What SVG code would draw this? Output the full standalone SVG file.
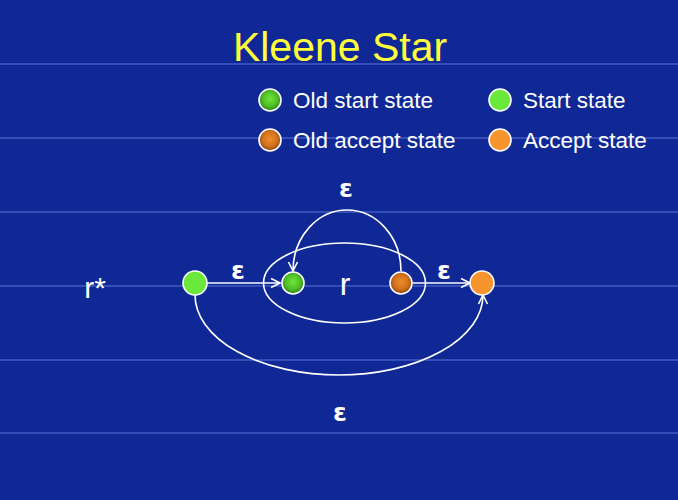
<svg xmlns="http://www.w3.org/2000/svg" width="678" height="500" viewBox="0 0 678 500">
<defs>
<style>
.rule{stroke:#5d73d6;stroke-width:1.2}
.lbl{font-family:"Liberation Sans",Arial,sans-serif;fill:#ffffff}
.leg{font-size:22.5px}
.eps{font-family:"DejaVu Sans",sans-serif;font-size:25px;font-weight:bold;text-anchor:middle}
.edge{fill:none;stroke:#ffffff;stroke-width:1.6}
.node{stroke:#ffffff;stroke-width:1.6}
</style>
<radialGradient id="gOld" cx="50%" cy="45%" r="55%">
<stop offset="0" stop-color="#6fe63a"/>
<stop offset="0.6" stop-color="#4fc027"/>
<stop offset="1" stop-color="#2f7d14"/>
</radialGradient>
<radialGradient id="oOld" cx="50%" cy="45%" r="55%">
<stop offset="0" stop-color="#f08a2a"/>
<stop offset="0.6" stop-color="#d2721d"/>
<stop offset="1" stop-color="#8a4410"/>
</radialGradient>
<marker id="arr" viewBox="0 0 12 12" refX="11" refY="6" markerWidth="12" markerHeight="12" markerUnits="userSpaceOnUse" orient="auto">
<polyline points="2,1.5 11,6 2,10.5" fill="none" stroke="#ffffff" stroke-width="1.6"/>
</marker>
</defs>
<rect width="678" height="500" fill="#0f2896"/>
<g id="rules">
<line class="rule" x1="0" y1="64" x2="678" y2="64"/>
<line class="rule" x1="0" y1="138" x2="678" y2="138"/>
<line class="rule" x1="0" y1="212" x2="678" y2="212"/>
<line class="rule" x1="0" y1="286" x2="678" y2="286"/>
<line class="rule" x1="0" y1="360" x2="678" y2="360"/>
<line class="rule" x1="0" y1="433" x2="678" y2="433"/>
</g>
<text x="340" y="61" font-family="Liberation Sans,Arial,sans-serif" font-size="41" fill="#ffff3c" text-anchor="middle">Kleene Star</text>
<g id="legend">
<circle class="node" cx="270" cy="100" r="11" fill="url(#gOld)"/>
<text class="lbl leg" x="293" y="108">Old start state</text>
<circle class="node" cx="500" cy="100" r="11" fill="#6ae93a"/>
<text class="lbl leg" x="523" y="108">Start state</text>
<circle class="node" cx="270" cy="140" r="11" fill="url(#oOld)"/>
<text class="lbl leg" x="293" y="148">Old accept state</text>
<circle class="node" cx="500" cy="140" r="11" fill="#f6952e"/>
<text class="lbl leg" x="523" y="148">Accept state</text>
</g>
<text class="lbl" x="95" y="298" font-size="30" text-anchor="middle">r*</text>
<g id="nfa-r">
<ellipse cx="344.5" cy="283" rx="81" ry="40" fill="none" stroke="#ffffff" stroke-width="1.6"/>
<text class="lbl" x="345" y="295" font-size="32" text-anchor="middle">r</text>
</g>
<g id="connectors">
<line class="edge" x1="207" y1="283" x2="280" y2="283" marker-end="url(#arr)"/>
<line class="edge" x1="413" y1="283" x2="470" y2="283" marker-end="url(#arr)"/>
<path class="edge" d="M401 271 A54 61 0 0 0 293 271" marker-end="url(#arr)"/>
<path class="edge" d="M195 295 A144 80 0 0 0 483 295" marker-end="url(#arr)"/>
</g>
<g id="edge-labels">
<text class="lbl eps" x="346" y="197">ε</text>
<text class="lbl eps" x="238" y="279">ε</text>
<text class="lbl eps" x="444" y="279">ε</text>
<text class="lbl eps" x="340" y="421">ε</text>
</g>
<g id="start">
<circle class="node" cx="195" cy="283" r="12" fill="#6ae93a"/>
</g>
<g id="old-start">
<circle class="node" cx="293" cy="283" r="11" fill="url(#gOld)"/>
</g>
<g id="old-accept">
<circle class="node" cx="401" cy="283" r="11" fill="url(#oOld)"/>
</g>
<g id="accept">
<circle class="node" cx="482" cy="283" r="12" fill="#f6952e"/>
</g>
</svg>
